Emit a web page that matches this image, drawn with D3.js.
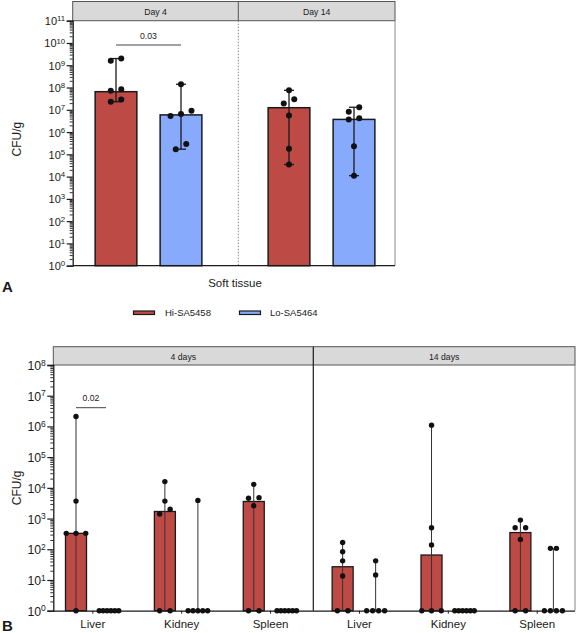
<!DOCTYPE html>
<html>
<head>
<meta charset="utf-8">
<script src="https://cdn.jsdelivr.net/npm/d3@7"></script>
<style>
  html, body { margin: 0; padding: 0; background: #fff; }
  svg { display: block; font-family: "Liberation Sans", Arial, Helvetica, sans-serif; }
</style>
</head>
<body>
<svg id="chart" width="578" height="633"></svg>
<script>
// ---------------- DATA ----------------
const seriesNames = ["Hi-SA5458", "Lo-SA5464"];
const seriesColors = ["#bd4a45", "#88aafc"];

// Panel A: soft tissue
const facetsA = ["Day 4", "Day 14"];
const barsA_hi = [6.5e7, 1.24e7];   // bar (median) values
const barsA_lo = [5.9e6, 3.7e6];
const pointsA_hi = [
  [2.0e9, 1.6e9, 8.3e7, 7.2e7, 2.9e7, 2.3e7],
  [7.5e7, 3.0e7, 1.9e7, 5.6e6, 1.8e5, 3.5e4]
];
const pointsA_lo = [
  [1.4e8, 9.1e6, 6.5e6, 5.2e6, 2.9e5, 1.7e5],
  [1.3e7, 8.1e6, 4.2e6, 3.7e6, 2.3e5, 1.1e4]
];
const sigA = { label: "0.03", facet: "Day 4" };
const yTicksA = d3.range(0, 12);   // exponents 10^0 .. 10^11

// Panel B: organs
const facetsB = ["4 days", "14 days"];
const organs = ["Liver", "Kidney", "Spleen"];
const barsB_hi = [[330, 1700, 3600], [27, 65, 350]];
const barsB_lo = [[1, 1, 1], [1, 1, 1]];
const pointsB_hi = [
  [[2.1e6, 3700, 330, 330, 330, 1], [1.6e4, 3700, 2000, 1400, 1, 1], [1.3e4, 4800, 4600, 2600, 1, 1]],
  [[166, 83, 42, 13.5, 1, 1], [1.1e6, 500, 138, 1, 1, 1], [890, 500, 500, 210, 1, 1]]
];
const pointsB_lo = [
  [[1, 1, 1, 1, 1, 1], [3900, 1, 1, 1, 1, 1], [1, 1, 1, 1, 1, 1]],
  [[42, 14.5, 1, 1, 1, 1], [1, 1, 1, 1, 1, 1], [107, 107, 1, 1, 1, 1]]
];
const sigB = { label: "0.02", facet: "4 days", organ: "Liver" };
const yTicksB = d3.range(0, 9);    // exponents 10^0 .. 10^8
const xTitleA = "Soft tissue";
const yTitle = "CFU/g";

// ---------------- DRAW ----------------
const svg = d3.select("#chart");
const ink = "#1a1a1a";

function clusterOffsets(ys, thresh, maxSpacing, maxSpread) {
  const idx = ys.map((y, i) => i).sort((a, b) => ys[a] - ys[b]);
  const groups = [];
  let cur = [];
  idx.forEach(i => {
    if (cur.length && ys[i] - ys[cur[cur.length - 1]] >= thresh) { groups.push(cur); cur = []; }
    cur.push(i);
  });
  if (cur.length) groups.push(cur);
  const off = new Array(ys.length).fill(0);
  groups.forEach(g => {
    const n = g.length;
    if (n < 2) return;
    const s = Math.min(maxSpacing, maxSpread / (n - 1));
    const ordered = g.slice().sort((a, b) => ys[b] - ys[a]);
    ordered.forEach((i, k) => { off[i] = (k - (n - 1) / 2) * s; });
  });
  return off;
}

function logAxis(g, y, exps, majorLen, fontSize, supSize) {
  const major = exps.map(e => Math.pow(10, e));
  const minor = [];
  for (let e = exps[0]; e < exps[exps.length - 1]; e++)
    for (let m = 2; m <= 9; m++) minor.push(m * Math.pow(10, e));
  const ax = g.append("g").call(d3.axisLeft(y).tickValues(major).tickSize(majorLen).tickFormat(() => ""));
  ax.select(".domain").attr("stroke", ink).attr("stroke-width", 1.3);
  ax.selectAll(".tick line").attr("stroke", ink).attr("stroke-width", 1.2);
  ax.selectAll(".tick").each(function (d) {
    const t = d3.select(this).append("text")
      .attr("x", -majorLen - 1.5).attr("dy", "0.36em")
      .attr("text-anchor", "end").attr("fill", ink)
      .style("font-size", fontSize + "px");
    t.append("tspan").text("10");
    t.append("tspan").attr("dy", "-0.5em").style("font-size", supSize + "px")
      .text(Math.round(Math.log10(d)));
  });
  const mi = g.append("g").call(d3.axisLeft(y).tickValues(minor).tickSize(3).tickFormat(() => ""));
  mi.select(".domain").remove();
  mi.selectAll(".tick line").attr("stroke", ink).attr("stroke-width", 0.9);
}

// ===== Panel A =====
(function () {
  const L = 72.7, R = 395, T = 20.7, B = 265.7, stripTop = 1.5, divider = 238.3;
  const y = d3.scaleLog().domain([1, 1e11]).range([B, T]);
  const xf = d3.scaleBand().domain(facetsA).range([62, 408]);
  const xs = d3.scaleBand().domain(seriesNames).range([21.5, 151.5]).paddingInner(0.358).paddingOuter(0.179);
  const g = svg.append("g");

  g.append("rect").attr("x", L).attr("y", stripTop).attr("width", R - L).attr("height", T - stripTop)
    .attr("fill", "#d9d9d9").attr("stroke", "#555").attr("stroke-width", 1);
  g.append("line").attr("x1", divider).attr("x2", divider).attr("y1", stripTop).attr("y2", T)
    .attr("stroke", "#555");
  const stripCenters = [(L + divider) / 2, (divider + R) / 2];
  facetsA.forEach((f, i) => g.append("text").attr("x", stripCenters[i]).attr("y", 14.5)
    .attr("text-anchor", "middle").style("font-size", "8.7px").attr("fill", ink).text(f));
  g.append("line").attr("x1", R).attr("x2", R).attr("y1", T).attr("y2", B).attr("stroke", "#888").attr("stroke-width", 1);
  g.append("line").attr("x1", divider).attr("x2", divider).attr("y1", T).attr("y2", B)
    .attr("stroke", "#888").attr("stroke-dasharray", "1.5,1.5");
  g.append("line").attr("x1", L).attr("x2", R).attr("y1", B).attr("y2", B).attr("stroke", ink).attr("stroke-width", 1.3);

  const groups = [];
  facetsA.forEach((f, fi) => {
    groups.push({ f, s: seriesNames[0], c: seriesColors[0], bar: barsA_hi[fi], pts: pointsA_hi[fi] });
    groups.push({ f, s: seriesNames[1], c: seriesColors[1], bar: barsA_lo[fi], pts: pointsA_lo[fi] });
  });
  groups.forEach(d => {
    const x0 = xf(d.f) + xs(d.s), w = xs.bandwidth(), cx = x0 + w / 2;
    g.append("rect").attr("x", x0).attr("y", y(d.bar)).attr("width", w).attr("height", B - y(d.bar))
      .attr("fill", d.c).attr("stroke", ink).attr("stroke-width", 1.5);
    const [lo, hi] = d3.extent(d.pts);
    g.append("line").attr("x1", cx).attr("x2", cx).attr("y1", y(lo)).attr("y2", y(hi)).attr("stroke", ink).attr("stroke-width", 1.3);
    [lo, hi].forEach(v => g.append("line").attr("x1", cx - 5).attr("x2", cx + 5).attr("y1", y(v)).attr("y2", y(v))
      .attr("stroke", ink).attr("stroke-width", 1.3));
    const ys = d.pts.map(v => y(v));
    const off = clusterOffsets(ys, 6, 10.5, 21);
    ys.forEach((py, i) => g.append("circle").attr("cx", cx + off[i]).attr("cy", py).attr("r", 3).attr("fill", "#111"));
  });

  const sx1 = xf(sigA.facet) + xs(seriesNames[0]) + xs.bandwidth() / 2;
  const sx2 = xf(sigA.facet) + xs(seriesNames[1]) + xs.bandwidth() / 2;
  g.append("line").attr("x1", sx1).attr("x2", sx2).attr("y1", 45).attr("y2", 45).attr("stroke", "#444").attr("stroke-width", 1);
  g.append("text").attr("x", (sx1 + sx2) / 2).attr("y", 39).attr("text-anchor", "middle")
    .style("font-size", "8.7px").attr("fill", ink).text(sigA.label);

  const ag = g.append("g").attr("transform", `translate(${L},0)`);
  logAxis(ag, y, yTicksA, 6, 11, 7.8);

  g.append("text").attr("transform", `translate(21,${(T + B) / 2 - 4}) rotate(-90)`).attr("text-anchor", "middle")
    .style("font-size", "12px").attr("fill", ink).text(yTitle);
  g.append("text").attr("x", 235).attr("y", 287).attr("text-anchor", "middle")
    .style("font-size", "11.5px").attr("fill", ink).text(xTitleA);
  g.append("text").attr("x", 2).attr("y", 292).style("font-size", "15px").style("font-weight", "bold")
    .attr("fill", ink).text("A");
})();

// ===== Legend =====
(function () {
  const g = svg.append("g");
  const items = [{ x: 133.5, tx: 165 }, { x: 239.5, tx: 270 }];
  seriesNames.forEach((s, i) => {
    g.append("rect").attr("x", items[i].x).attr("y", 311).attr("width", 21).attr("height", 3.5)
      .attr("fill", seriesColors[i]).attr("stroke", ink).attr("stroke-width", 1.2);
    g.append("text").attr("x", items[i].tx).attr("y", 316.3).style("font-size", "9.5px").attr("fill", ink).text(s);
  });
})();

// ===== Panel B =====
(function () {
  const L = 53.3, R = 575, T = 365, B = 610.7, stripTop = 346.7, divider = 313.3;
  const y = d3.scaleLog().domain([1, 1e8]).range([B, T]);
  const keys = [];
  facetsB.forEach(f => organs.forEach(o => keys.push(f + "|" + o)));
  const xc = d3.scalePoint().domain(keys).range([92.3, 536.7]);
  const xs = d3.scalePoint().domain(seriesNames).range([-16.3, 16.7]);
  const bw = 21;
  const g = svg.append("g");

  g.append("rect").attr("x", L).attr("y", stripTop).attr("width", R - L).attr("height", T - stripTop)
    .attr("fill", "#d9d9d9").attr("stroke", "#555").attr("stroke-width", 1);
  const stripCenters = [(L + divider) / 2, (divider + R) / 2];
  facetsB.forEach((f, i) => g.append("text").attr("x", stripCenters[i]).attr("y", 359.5)
    .attr("text-anchor", "middle").style("font-size", "8.7px").attr("fill", ink).text(f));
  g.append("line").attr("x1", R).attr("x2", R).attr("y1", T).attr("y2", B).attr("stroke", "#888");
  g.append("line").attr("x1", divider).attr("x2", divider).attr("y1", stripTop).attr("y2", B)
    .attr("stroke", ink).attr("stroke-width", 1.2);

  const xa = g.append("g").attr("transform", `translate(0,${B})`)
    .call(d3.axisBottom(xc).tickSize(3).tickFormat(k => k.split("|")[1]));
  xa.select(".domain").attr("d", `M${L},0.5H${R}`).attr("stroke", ink).attr("stroke-width", 1.3);
  xa.selectAll(".tick line").attr("stroke", ink);
  xa.selectAll(".tick text").attr("y", 9).style("font-size", "11.5px").attr("fill", ink)
    .style("font-family", "'Liberation Sans', Arial, sans-serif");

  const groups = [];
  facetsB.forEach((f, fi) => organs.forEach((o, oi) => {
    groups.push({ k: f + "|" + o, s: seriesNames[0], c: seriesColors[0], bar: barsB_hi[fi][oi], pts: pointsB_hi[fi][oi] });
    groups.push({ k: f + "|" + o, s: seriesNames[1], c: seriesColors[1], bar: barsB_lo[fi][oi], pts: pointsB_lo[fi][oi] });
  }));
  groups.forEach(d => {
    const cx = xc(d.k) + xs(d.s);
    if (d.bar > 1) {
      g.append("rect").attr("x", cx - bw / 2).attr("y", y(d.bar)).attr("width", bw).attr("height", B - y(d.bar))
        .attr("fill", d.c).attr("stroke", ink).attr("stroke-width", 1.3);
    }
    const [lo, hi] = d3.extent(d.pts);
    if (hi > lo) {
      g.append("line").attr("x1", cx).attr("x2", cx).attr("y1", y(lo)).attr("y2", y(hi))
        .attr("stroke", "#333").attr("stroke-width", 1);
    }
    const ys = d.pts.map(v => y(v));
    const maxSp = d.bar > 1 ? 10.5 : 6;
    const off = clusterOffsets(ys, 5.5, maxSp, 19.5);
    ys.forEach((py, i) => g.append("circle").attr("cx", cx + off[i]).attr("cy", py).attr("r", 2.7).attr("fill", "#111"));
  });

  const k = sigB.facet + "|" + sigB.organ;
  const sx1 = xc(k) + xs(seriesNames[0]), sx2 = xc(k) + xs(seriesNames[1]) - 3;
  g.append("line").attr("x1", sx1).attr("x2", sx2).attr("y1", 407.7).attr("y2", 407.7).attr("stroke", "#444");
  g.append("text").attr("x", (sx1 + sx2) / 2).attr("y", 401).attr("text-anchor", "middle")
    .style("font-size", "8.7px").attr("fill", ink).text(sigB.label);

  const ag = g.append("g").attr("transform", `translate(${L},0)`);
  logAxis(ag, y, yTicksB, 6, 12.3, 8.5);

  g.append("text").attr("transform", `translate(21,${(T + B) / 2}) rotate(-90)`).attr("text-anchor", "middle")
    .style("font-size", "12px").attr("fill", ink).text(yTitle);
  g.append("text").attr("x", 2).attr("y", 631).style("font-size", "15px").style("font-weight", "bold")
    .attr("fill", ink).text("B");
})();
</script>
</body>
</html>
